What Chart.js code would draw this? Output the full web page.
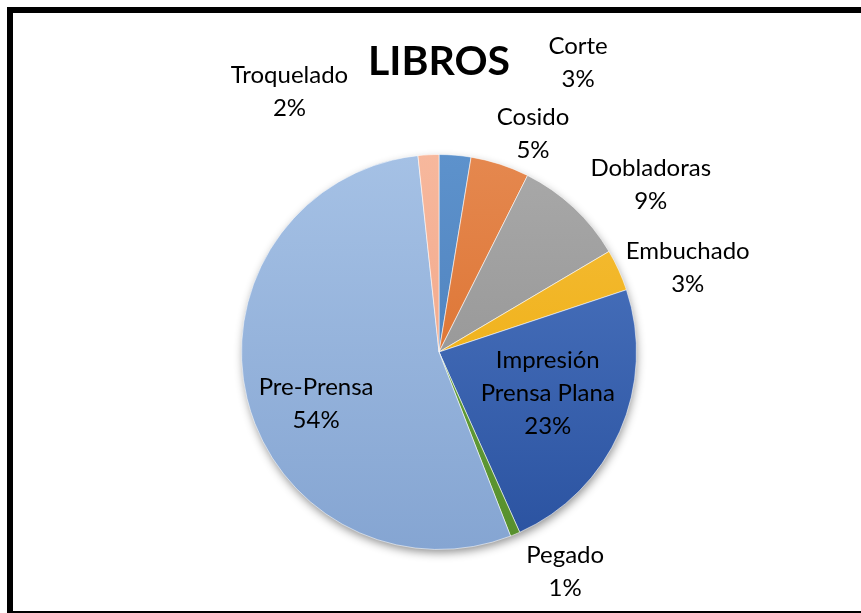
<!DOCTYPE html>
<html>
<head>
<meta charset="utf-8">
<script src="https://cdn.jsdelivr.net/npm/chart.js@4.4.1/dist/chart.umd.min.js"></script>
<style>
  html, body { margin: 0; padding: 0; background: #fff; overflow: hidden; }
  #wrap { position: relative; width: 861px; height: 613px; }
  #frame {
    position: absolute; left: 7px; top: 7px; width: 900px; height: 598px;
    border: 6px solid #000; box-sizing: content-box; pointer-events: none;
  }
  canvas { position: absolute; left: 0; top: 0; }
</style>
</head>
<body>
<div id="wrap">
  <canvas id="chart" width="861" height="613"></canvas>
  <div id="frame"></div>
</div>
<script>
// --- data ---
const categories = ["Corte", "Cosido", "Dobladoras", "Embuchado", "Impresión Prensa Plana", "Pegado", "Pre-Prensa", "Troquelado"];
const shares = [2.6, 4.8, 9.1, 3.4, 23.4, 0.8, 54.2, 1.7];
const titleText = "LIBROS";

// --- styling (top colour, bottom colour of each slice) ---
const topColors = ["#5d92cc", "#e5884f", "#a9a9a9", "#f5be3c", "#5079c3", "#6cab44", "#a5c1e5", "#f7b89d"];
const bottomColors = ["#4677b4", "#d7661f", "#8a8a8a", "#eca800", "#2a52a0", "#578f2c", "#85a5d2", "#ee9d7e"];
// label offsets from the outer edge point of each slice (px)
const labelNudge = [[123, -92], [33, -30], [77, -23], [69, -2], [-72, -38], [50, 38], [69, 5], [-139, -63]];
const labelFont = "24px Lato, 'Open Sans', sans-serif";
const lineHeight = 33;

const ctx = document.getElementById("chart").getContext("2d");

function sliceGradient(context) {
  const chart = context.chart;
  const area = chart.chartArea;
  if (!area) return topColors[context.dataIndex];
  const g = chart.ctx.createLinearGradient(0, area.top, 0, area.bottom);
  g.addColorStop(0, topColors[context.dataIndex]);
  g.addColorStop(1, bottomColors[context.dataIndex]);
  return g;
}

const shadowPlugin = {
  id: "pieShadow",
  beforeDatasetsDraw(chart) {
    const arc = chart.getDatasetMeta(0).data[0];
    if (!arc) return;
    const c = chart.ctx;
    c.save();
    c.shadowColor = "rgba(0,0,0,0.45)";
    c.shadowBlur = 10;
    c.shadowOffsetX = 1;
    c.shadowOffsetY = 4;
    c.fillStyle = "#ffffff";
    c.beginPath();
    c.arc(arc.x, arc.y, arc.outerRadius - 1, 0, Math.PI * 2);
    c.fill();
    c.restore();
  }
};

const labelPlugin = {
  id: "sliceLabels",
  afterDatasetsDraw(chart) {
    const c = chart.ctx;
    const meta = chart.getDatasetMeta(0);
    const total = shares.reduce((a, b) => a + b, 0);
    c.save();
    c.font = labelFont;
    c.fillStyle = "#000";
    c.textAlign = "center";
    c.textBaseline = "middle";
    meta.data.forEach((arc, i) => {
      const mid = (arc.startAngle + arc.endAngle) / 2;
      const px = arc.x + Math.cos(mid) * arc.outerRadius + labelNudge[i][0];
      const py = arc.y + Math.sin(mid) * arc.outerRadius + labelNudge[i][1];
      const pct = Math.round(shares[i] / total * 100) + "%";
      let lines = [categories[i], pct];
      if (categories[i] === "Impresión Prensa Plana") lines = ["Impresión", "Prensa Plana", pct];
      const y0 = py - (lines.length - 1) * lineHeight / 2;
      lines.forEach((t, k) => c.fillText(t, px, y0 + k * lineHeight));
    });
    // title
    c.font = "bold 41px Lato, 'Open Sans', sans-serif";
    c.fillText(titleText, 439, 62);
    c.restore();
  }
};

new Chart(ctx, {
  type: "pie",
  data: {
    labels: categories,
    datasets: [{
      data: shares,
      backgroundColor: sliceGradient,
      borderColor: "rgba(255,255,255,0.55)",
      borderWidth: 1
    }]
  },
  options: {
    responsive: false,
    animation: false,
    layout: { padding: { left: 241, right: 224, top: 154, bottom: 63 } },
    plugins: {
      legend: { display: false },
      tooltip: { enabled: false },
      title: { display: false }
    }
  },
  plugins: [shadowPlugin, labelPlugin]
});
</script>
</body>
</html>
